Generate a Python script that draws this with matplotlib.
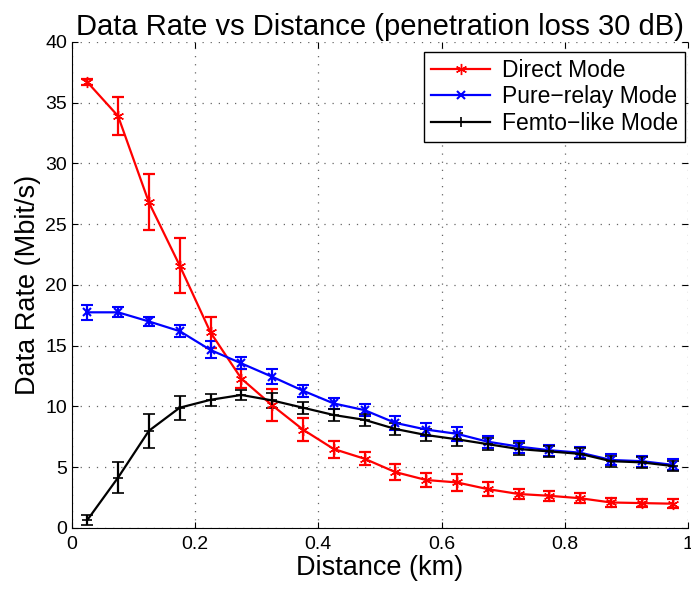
import numpy as np
import matplotlib.pyplot as plt

plt.rcParams['font.family'] = ['Liberation Sans', 'DejaVu Sans']

# distance points (km)
distance = [0.025, 0.075, 0.125, 0.175, 0.225, 0.275, 0.325, 0.375, 0.425, 0.475,
            0.525, 0.575, 0.625, 0.675, 0.725, 0.775, 0.825, 0.875, 0.925, 0.975]

direct = [36.7, 33.9, 26.8, 21.6, 16.1, 12.3, 10.1, 8.1, 6.5, 5.7,
          4.6, 3.95, 3.75, 3.2, 2.8, 2.65, 2.45, 2.1, 2.05, 2.0]
direct_err = [0.25, 1.55, 2.3, 2.3, 1.3, 0.75, 1.3, 0.95, 0.7, 0.55,
              0.65, 0.6, 0.7, 0.55, 0.45, 0.4, 0.4, 0.35, 0.35, 0.35]

relay = [17.75, 17.75, 17.0, 16.2, 14.65, 13.55, 12.45, 11.3, 10.25, 9.7,
         8.65, 8.1, 7.75, 7.1, 6.7, 6.4, 6.2, 5.6, 5.5, 5.2]
relay_err = [0.6, 0.4, 0.35, 0.5, 0.7, 0.5, 0.6, 0.5, 0.45, 0.5,
             0.55, 0.55, 0.6, 0.5, 0.5, 0.45, 0.45, 0.45, 0.45, 0.45]

femto = [0.65, 4.15, 8.0, 9.9, 10.55, 10.95, 10.5, 9.9, 9.3, 8.9,
         8.15, 7.65, 7.3, 6.9, 6.5, 6.3, 6.1, 5.5, 5.4, 5.1]
femto_err = [0.4, 1.25, 1.4, 1.0, 0.5, 0.4, 0.6, 0.5, 0.5, 0.5,
             0.5, 0.5, 0.55, 0.5, 0.5, 0.45, 0.45, 0.45, 0.45, 0.45]

labels = ['Direct Mode', 'Pure\u2212relay Mode', 'Femto\u2212like Mode']

fig = plt.figure(figsize=(6.91, 5.91), dpi=100)
ax = fig.add_axes([0.104, 0.1066, 0.8917, 0.8224])

asterisk = (6, 2, 0)
ax.errorbar(distance, direct, yerr=direct_err, color='red', marker=asterisk, ms=8,
            lw=1.6, capsize=4, elinewidth=1.6, capthick=1.6, label=labels[0])
ax.errorbar(distance, relay, yerr=relay_err, color='blue', marker='x', ms=6, mew=1.5,
            lw=1.6, capsize=4, elinewidth=1.6, capthick=1.6, label=labels[1])
ax.errorbar(distance, femto, yerr=femto_err, color='black', marker='+', ms=7, mew=1.2,
            lw=1.6, capsize=4, elinewidth=1.6, capthick=1.6, label=labels[2])

ax.set_xlim(0, 1)
ax.set_ylim(0, 40)
ax.set_xticks([0, 0.2, 0.4, 0.6, 0.8, 1])
ax.set_xticklabels(['0', '0.2', '0.4', '0.6', '0.8', '1'])
ax.set_yticks(range(0, 41, 5))
ax.tick_params(direction='in', labelsize=14, top=True, right=True, length=4)
ax.tick_params(axis='x', pad=6)
ax.spines['top'].set_visible(False)
ax.spines['right'].set_visible(False)
ax.grid(True, color='0.4', linestyle=(0, (1, 5.5)), lw=0.9)

ax.set_title('Data Rate vs Distance (penetration loss 30 dB)', fontsize=21, pad=5)
ax.set_xlabel('Distance (km)', fontsize=19.5, labelpad=1)
ax.set_ylabel('Data Rate (Mbit/s)', fontsize=19.5, labelpad=3)

handles, _ = ax.get_legend_handles_labels()
handles = [h[0] for h in handles]
leg = ax.legend(handles, labels, loc='upper right', fontsize=16.5, fancybox=False,
                edgecolor='black', framealpha=1, borderpad=0.3, labelspacing=0.15,
                handlelength=2.6, handletextpad=0.5, borderaxespad=0,
                bbox_to_anchor=(0.995, 0.979))
leg.get_frame().set_linewidth(1.0)

fig.savefig('out.png', dpi=100)
